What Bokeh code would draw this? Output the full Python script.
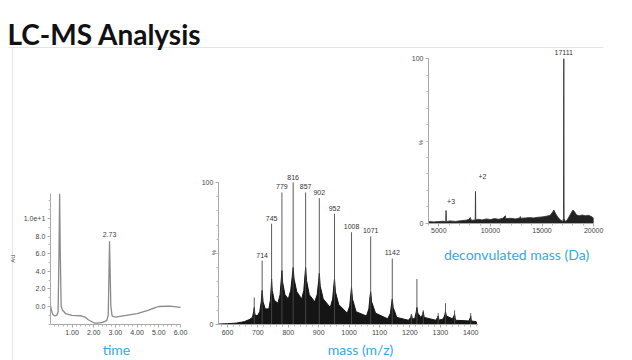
from bokeh.plotting import figure
from bokeh.models import Range1d, LinearAxis, FixedTicker, Label
from bokeh.core.properties import value
from bokeh.embed import file_html
from bokeh.resources import INLINE
import math

# ---------------- data ----------------
title_text = "LC-MS Analysis"

# LC chromatogram (time, AU)
lc_time = [0.02, 0.06, 0.12, 0.2, 0.3, 0.36, 0.40, 0.43, 0.46, 0.50,
           0.56, 0.7, 1.0, 1.4, 1.6, 1.75, 1.9, 2.05, 2.2, 2.4,
           2.6, 2.67, 2.73, 2.79, 2.85, 3.0, 3.5, 4.0, 4.5, 4.8,
           5.0, 5.5, 6.0]
lc_au = [0.0, -0.5, -0.9, -1.05, -1.0, -0.6, 6.0, 12.8, 6.0, 0.0,
         -0.4, -0.8, -1.0, -1.05, -1.2, -1.5, -1.7, -1.9, -1.9, -1.8,
         -1.6, -1.0, 7.4, 0.0, -1.1, -1.2, -1.0, -0.8, -0.45, -0.15,
         0.0, 0.05, -0.1]
lc_peak_time = [2.73]
lc_peak_au = [7.4]
lc_peak_text = ["2.73"]
lc_xticks = [1, 2, 3, 4, 5, 6]
lc_xtick_labels = ["1.00", "2.00", "3.00", "4.00", "5.00", "6.00"]
lc_yticks = [0, 2, 4, 6, 8, 10]
lc_ytick_labels = ["0.0", "2.0", "4.0", "6.0", "8.0", "1.0e+1"]
lc_xlabel = "time"
lc_ylabel = "AU"

# ESI mass spectrum (m/z, %)
ms_peak_mz = [688, 714, 745, 779, 816, 857, 902, 952, 1008, 1071, 1142,
              1205, 1223, 1244, 1293, 1317, 1347, 1400]
ms_peak_pct = [19, 45, 71, 93, 100, 93, 89, 78, 65, 62, 46.5,
               7, 32, 10, 8, 15, 10, 8]
ms_label_mz = [714, 745, 779, 816, 857, 902, 952, 1008, 1071, 1142]
ms_label_pct = [45, 71, 93, 100, 93, 89, 78, 65, 62, 46.5]
ms_label_text = ["714", "745", "779", "816", "857", "902", "952", "1008", "1071", "1142"]
ms_env_mz = [572, 600, 630, 655, 672, 682, 686, 688, 690, 698, 706, 711, 714, 717, 724,
             736, 741, 744, 745, 747, 754, 766, 773, 777, 779, 781, 789, 800, 808, 813,
             816, 819, 828, 844, 851, 855, 857, 860, 869, 887, 895, 900, 902, 905, 915,
             938, 946, 950, 952, 955, 966, 994, 1002, 1006, 1008, 1011, 1023, 1057, 1065,
             1069, 1071, 1074, 1087, 1127, 1136, 1140, 1142, 1145, 1157, 1195, 1203, 1205,
             1208, 1216, 1221, 1223, 1226, 1236, 1242, 1244, 1247, 1285, 1291, 1293, 1296,
             1310, 1315, 1317, 1320, 1340, 1345, 1347, 1350, 1394, 1399, 1400, 1402, 1418, 1420]
ms_env_pct = [0.3, 0.6, 1.0, 2.0, 3.5, 5, 9, 12, 7, 6, 9, 16, 24, 16, 11,
              11, 17, 27, 32, 24, 17, 15, 21, 32, 38, 30, 21, 18, 24, 34,
              40, 32, 23, 18, 24, 35, 40, 31, 21, 16, 21, 31, 36, 27, 18,
              12, 18, 28, 32, 23, 14, 8, 13, 22, 26, 18, 9, 6, 11,
              20, 23, 16, 8, 4, 8, 15, 18, 12, 5, 3, 5, 7,
              4, 4, 9, 12, 8, 5, 7, 9, 5, 3, 5, 6, 3,
              4, 7, 9, 6, 4, 6, 7, 3, 2.5, 5, 6, 2.5, 2, 0]
ms_xticks = [600, 700, 800, 900, 1000, 1100, 1200, 1300, 1400]
ms_yticks = [0, 100]
ms_xlabel = "mass (m/z)"
ms_ylabel = "%"

# Deconvoluted spectrum (Da, %)
dc_mass = [4050, 4500, 5000, 5400, 5680, 5704, 5728, 6100, 6600, 7100,
           7600, 7900, 8050, 8120, 8250, 8530, 8556, 8582, 8800, 9200,
           9600, 10000, 10400, 10800, 11200, 11450, 11500, 11550, 12000, 12400,
           12850, 12900, 12950, 13400, 13800, 14200, 14600, 15000, 15400, 15800,
           16000, 16150, 16300, 16550, 16800, 17000, 17085, 17111, 17137, 17250,
           17500, 17800, 18000, 18150, 18350, 18600, 18900, 19200, 19500, 19800,
           20000]
dc_pct = [1.0, 0.8, 1.0, 1.2, 1.0, 7.7, 1.0, 1.4, 1.1, 1.5,
          1.8, 2.2, 3.5, 2.0, 1.8, 2.0, 19.3, 2.0, 2.4, 2.0,
          2.6, 2.2, 2.8, 2.4, 3.0, 4.5, 2.6, 2.8, 3.0, 2.6,
          3.2, 4.0, 3.0, 3.2, 3.4, 3.2, 3.6, 3.8, 4.2, 4.8,
          6.5, 8.0, 6.0, 3.5, 2.0, 1.0, 3.0, 100, 3.0, 1.0,
          2.5, 6.0, 8.0, 7.0, 5.0, 4.5, 5.0, 4.5, 4.8, 4.0,
          3.0]
dc_label_mass = [5704, 8556, 17111]
dc_label_pct = [7.7, 19.3, 100]
dc_label_text = ["+3", "+2", "17111"]
dc_xticks = [5000, 10000, 15000, 20000]
dc_yticks = [0, 100]
dc_xlabel = "deconvulated mass (Da)"
dc_ylabel = "%"

# ---------------- layout / styling ----------------
W, H = 632, 360
X0, X1 = 0, W            # page pixel coordinates of the canvas
Y0, Y1 = 0, H
CYAN = "#35a9dc"
TICK_FONT = "Liberation Sans"

p = figure(width=W, height=H, x_range=Range1d(X0, X1), y_range=Range1d(Y1, Y0),
           output_backend="svg", toolbar_location=None, min_border=0,
           x_axis_location=None, y_axis_location=None)
p.xgrid.visible = False
p.ygrid.visible = False
p.outline_line_color = None
p.background_fill_color = "white"
p.border_fill_color = "white"


def xrange_for(a, pa, b, pb):
    s = (b - a) / (pb - pa)
    return Range1d(a + (X0 - pa) * s, a + (X1 - pa) * s)


def yrange_for(a, pa, b, pb):
    s = (b - a) / (pa - pb)
    return Range1d(a - (Y1 - pa) * s, a + (pa - Y0) * s)


p.extra_x_ranges = {
    "lc": xrange_for(0, 49.8, 6, 180),
    "ms": xrange_for(600, 227, 1400, 470.2),
    "dc": xrange_for(8556, 475, 17111, 563.3),
}
p.extra_y_ranges = {
    "lc": yrange_for(0, 306, 10, 218),
    "ms": yrange_for(0, 324, 100, 182),
    "dc": yrange_for(0, 222.7, 100, 58.3),
}


def style(ax):
    ax.axis_line_color = "#a8a8a8"
    ax.axis_line_width = 1
    ax.major_tick_line_color = "#a8a8a8"
    ax.major_tick_out = 3
    ax.major_tick_in = 0
    ax.minor_tick_line_color = "#b8b8b8"
    ax.minor_tick_out = 2
    ax.minor_tick_in = 0
    ax.major_label_text_font = TICK_FONT
    ax.major_label_text_font_size = "7px"
    ax.major_label_text_color = "#444444"
    ax.major_label_standoff = 2


def add_axes(name, xb, yb, xt, xminor, yt, yminor, xover=None, yover=None):
    xa = LinearAxis(x_range_name=name, y_range_name=name, fixed_location=yb[0],
                    bounds=xb, ticker=FixedTicker(ticks=xt, minor_ticks=xminor))
    ya = LinearAxis(x_range_name=name, y_range_name=name, fixed_location=xb[0],
                    bounds=yb, ticker=FixedTicker(ticks=yt, minor_ticks=yminor))
    if xover:
        xa.major_label_overrides = xover
    if yover:
        ya.major_label_overrides = yover
    style(xa)
    style(ya)
    p.add_layout(xa, "below")
    p.add_layout(ya, "left")


# slide frame lines
p.segment(x0=[8, 12], y0=[47, 47], x1=[603, 12], y1=[47, H],
          line_color="#e4e4e4", line_width=1)

# ---- LC chromatogram ----
add_axes("lc", (0, 6), (-2.05, 12.8), lc_xticks,
         [i / 5 for i in range(1, 30) if i % 5],
         lc_yticks, [-2, -1, 1, 3, 5, 7, 9, 11, 12],
         dict(zip(lc_xticks, lc_xtick_labels)), dict(zip(lc_yticks, lc_ytick_labels)))
p.line(lc_time, lc_au, x_range_name="lc", y_range_name="lc",
       line_color="#8a8a8a", line_width=1.3)
p.text(x=lc_peak_time, y=lc_peak_au, text=lc_peak_text, x_range_name="lc", y_range_name="lc",
       text_align="center", text_baseline="bottom", y_offset=-4,
       text_font=value(TICK_FONT), text_font_size="7px", text_color="#444444")

# ---- mass spectrum ----
add_axes("ms", (570, 1422), (0, 100), ms_xticks,
         [v for v in range(580, 1421, 20) if v % 100],
         ms_yticks, list(range(10, 100, 10)))
p.varea(x=ms_env_mz, y1=0, y2=ms_env_pct, x_range_name="ms", y_range_name="ms",
        fill_color="#151515")
p.line(ms_env_mz, ms_env_pct, x_range_name="ms", y_range_name="ms",
       line_color="#151515", line_width=1)
p.segment(x0=ms_peak_mz, y0=0, x1=ms_peak_mz, y1=ms_peak_pct,
          x_range_name="ms", y_range_name="ms", line_color="#4a4a4a", line_width=0.9)
p.text(x=ms_label_mz, y=ms_label_pct, text=ms_label_text, x_range_name="ms", y_range_name="ms",
       text_align="center", text_baseline="bottom", y_offset=-3,
       text_font=value(TICK_FONT), text_font_size="7px", text_color="#333333")

# ---- deconvoluted spectrum ----
add_axes("dc", (4000, 20000), (0, 100), dc_xticks,
         [v for v in range(4000, 20001, 1000) if v % 5000],
         dc_yticks, list(range(10, 100, 10)))
p.varea(x=dc_mass, y1=0, y2=dc_pct, x_range_name="dc", y_range_name="dc",
        fill_color="#222222")
p.line(dc_mass, dc_pct, x_range_name="dc", y_range_name="dc",
       line_color="#3a3a3a", line_width=0.9)
p.text(x=dc_label_mass, y=dc_label_pct, text=dc_label_text, x_range_name="dc", y_range_name="dc",
       text_align="center", text_baseline="bottom",
       x_offset=[5, 7, 0], y_offset=[-7, -12, -4],
       text_font=value(TICK_FONT), text_font_size="7px", text_color="#333333")

# ---- texts: title, captions, axis names ----
p.add_layout(Label(x=7, y=33, text=title_text, text_font="Lato", text_font_style="bold",
                   text_font_size="28px", text_color="#111111", text_baseline="alphabetic"))
for txt, cx, cy in [(lc_xlabel, 116, 349), (ms_xlabel, 360, 349), (dc_xlabel, 516, 254)]:
    p.add_layout(Label(x=cx, y=cy, text=txt, text_font="Lato", text_font_size="14px",
                       text_color=CYAN, text_align="center", text_baseline="alphabetic"))
for txt, cx, cy in [(lc_ylabel, 12, 258), (ms_ylabel, 213, 252), (dc_ylabel, 420, 142)]:
    p.add_layout(Label(x=cx, y=cy, text=txt, text_font=TICK_FONT, text_font_size="6px",
                       text_color="#444444", text_align="center", text_baseline="middle",
                       angle=math.pi / 2))

open("out.html", "w").write(file_html(p, INLINE))
